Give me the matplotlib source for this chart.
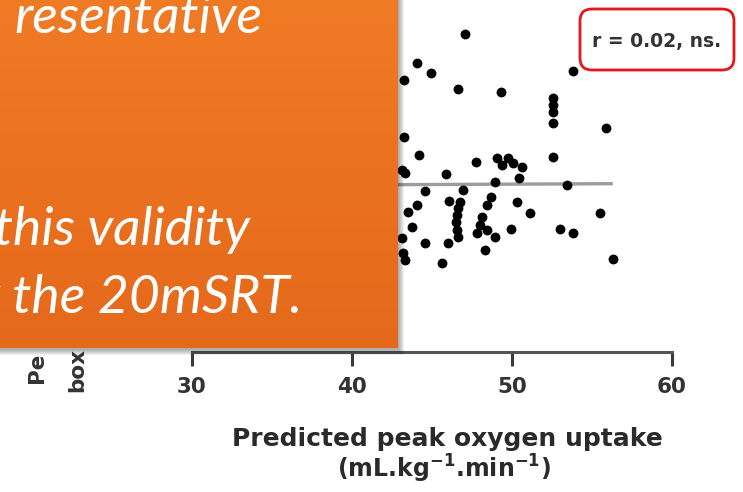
import numpy as np
import matplotlib
matplotlib.use("Agg")
import matplotlib.pyplot as plt
from matplotlib.patches import Rectangle, FancyBboxPatch

plt.rcParams["font.family"] = ["DejaVu Sans"]
plt.rcParams["mathtext.default"] = "bf"

# Predicted peak oxygen uptake (mL/kg/min) vs. score, visible points
vo2 = [47.06, 44.06, 44.94, 43.25, 46.63, 49.31, 53.81, 52.56, 52.56, 52.56,
       52.56, 55.88, 43.25, 44.19, 52.56, 47.75, 49.06, 49.75, 49.38, 50.06,
       50.63, 50.44, 48.94, 43.13, 43.31, 45.88, 53.44, 44.56, 46.94, 46.06,
       46.75, 46.63, 46.56, 46.50, 46.56, 46.63, 48.69, 48.44, 48.13, 48.00,
       47.81, 48.44, 48.94, 50.31, 51.13, 49.94, 44.06, 43.50, 43.75, 43.13,
       44.56, 46.00, 43.19, 43.31, 48.31, 45.63, 55.50, 53.00, 53.81, 56.31]
score = [106.0, 96.3, 93.0, 90.7, 87.7, 86.7, 93.7, 84.7, 82.3, 80.0,
         76.3, 74.7, 71.7, 65.7, 65.0, 63.3, 64.7, 64.7, 62.3, 63.0,
         61.7, 58.0, 56.7, 60.7, 59.7, 59.3, 55.7, 53.7, 54.0, 50.3,
         50.0, 48.0, 45.7, 43.3, 40.7, 38.3, 51.7, 49.0, 45.0, 42.3,
         39.7, 40.7, 38.3, 50.0, 46.3, 41.0, 49.0, 46.7, 41.7, 38.0,
         36.3, 36.3, 33.0, 30.7, 34.0, 29.7, 46.3, 41.0, 39.7, 31.0]

# Regression line end points
fit_x = [31.0, 56.3]
fit_y = [55.5, 56.1]

x_ticks = [30, 40, 50, 60]
x_tick_labels = ["30", "40", "50", "60"]
stat_label = "r = 0.02, ns."
xlabel_lines = ["Predicted peak oxygen uptake", r"(mL.kg$^{-1}$.min$^{-1}$)"]
ylabel_lines = ["Pe", "box"]
slide_lines = ["resentative", "this validity", "by the 20mSRT."]

W, H = 743, 492
fig = plt.figure(figsize=(W / 100, H / 100), dpi=100)
fig.patch.set_facecolor("white")


def fx(px):
    return px / W


def fy(py):
    return 1 - py / H


# ---- scatter chart ----
ax = fig.add_axes([fx(192), fy(352), 480 / W, 330 / H])
ax.patch.set_alpha(0)
ax.scatter(vo2, score, s=50, c="black", linewidths=0, zorder=3)
ax.plot(fit_x, fit_y, color="#9c9c9c", lw=2.4, solid_capstyle="butt", zorder=2)
ax.set_xlim(30, 60)
ax.set_ylim(0, 110)
for side in ("top", "right", "left"):
    ax.spines[side].set_visible(False)
ax.spines["bottom"].set_bounds(30, 60)
ax.spines["bottom"].set_linewidth(2.2)
ax.spines["bottom"].set_color("#555555")
ax.spines["bottom"].set_capstyle("projecting")
ax.set_xticks(x_ticks)
ax.set_xticklabels(x_tick_labels, fontweight="bold")
ax.set_yticks([])
ax.tick_params(axis="x", direction="out", length=10, width=2.2, color="#3a3a3a",
               pad=8, labelsize=15.5, labelcolor="#333333")

for px, py, txt in [(37, 383, ylabel_lines[0]), (77, 392, ylabel_lines[1])]:
    ax.text(fx(px), fy(py), txt, transform=fig.transFigure, rotation=90,
            ha="center", va="bottom", fontsize=15.5, fontweight="bold",
            color="#333333", clip_on=False)

fig.text(fx(447), fy(439), xlabel_lines[0], ha="center", va="center",
         fontsize=18, fontweight="bold", color="#2a2a2a")
fig.text(fx(444), fy(469), xlabel_lines[1], ha="center", va="center",
         fontsize=17, fontweight="bold", color="#2a2a2a")

# ---- overlay: orange callout and statistics box ----
ov = fig.add_axes([0, 0, 1, 1], zorder=10)
ov.set_xlim(0, W)
ov.set_ylim(H, 0)
ov.axis("off")
ov.patch.set_alpha(0)

box_r, box_b = 398, 348
for i in range(6):
    ov.add_patch(Rectangle((-10, -10), box_r + 10 + 1 + i, box_b + 10 + 2 + i,
                           facecolor="black", edgecolor="none", alpha=0.06, zorder=1))

top_c = np.array([240, 123, 37]) / 255
bot_c = np.array([229, 105, 27]) / 255
t = np.linspace(0, 1, 256)[:, None, None]
grad = top_c * (1 - t) + bot_c * t
ov.imshow(grad, extent=(-10, box_r, box_b, -10), aspect="auto",
          interpolation="bilinear", zorder=2)

for (px, py), txt in zip([(263, 33), (250, 245), (302, 313)], slide_lines):
    ov.text(px, py, txt, ha="right", va="baseline", color="white",
            fontsize=38.5, family="Lato", style="italic", zorder=3)

ov.add_patch(FancyBboxPatch((580, 9), 154, 61,
                            boxstyle="round,pad=0,rounding_size=12",
                            facecolor="none", edgecolor="#e8141c", lw=2.0, zorder=3))
ov.text(657, 42, stat_label, ha="center", va="center", fontsize=13.5,
        fontweight="bold", color="#333333", zorder=4)

fig.savefig("out.png", dpi=100)
